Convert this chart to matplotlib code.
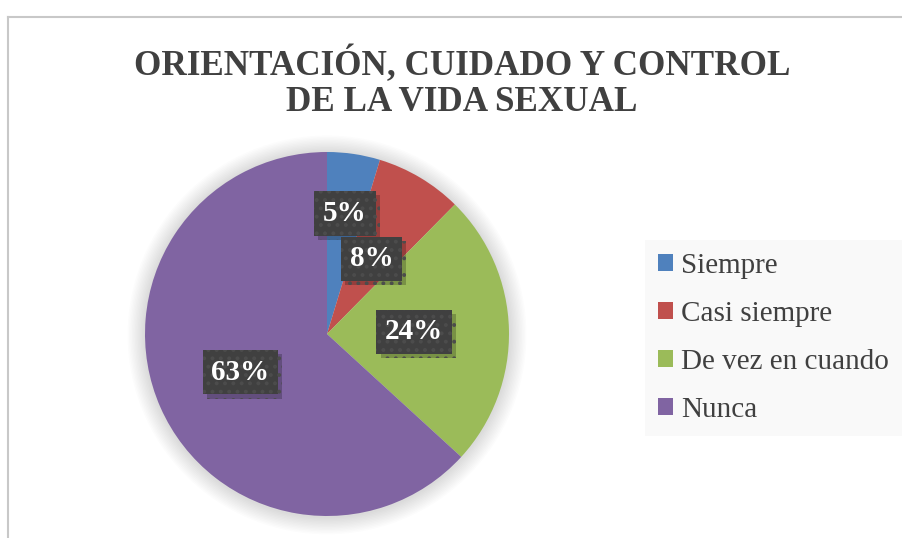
import matplotlib
matplotlib.use("Agg")
import matplotlib.pyplot as plt
import numpy as np
from matplotlib.patches import Circle
from matplotlib.lines import Line2D
import matplotlib.patheffects as pe

categories = ["Siempre", "Casi siempre", "De vez en cuando", "Nunca"]
values = [4.7, 7.7, 24.4, 63.2]
colors = ["#4F81BD", "#C0504D", "#9BBB59", "#8064A2"]
title = "ORIENTACIÓN, CUIDADO Y CONTROL\nDE LA VIDA SEXUAL"

label_radius = [0.67, 0.48, 0.48, 0.52]

plt.rcParams["font.family"] = ["Liberation Serif", "DejaVu Serif"]
plt.rcParams["hatch.linewidth"] = 1.6

W, H = 903, 538
fig = plt.figure(figsize=(W / 100, H / 100), dpi=100)
fig.patch.set_facecolor("white")

# chart border (top and left visible)
fig.add_artist(Line2D([8 / W, 8 / W], [0, 1 - 17 / H], color="#c8c8c8", lw=1.5, transform=fig.transFigure))
fig.add_artist(Line2D([8 / W, 1], [1 - 17 / H, 1 - 17 / H], color="#c8c8c8", lw=1.5, transform=fig.transFigure))

fig.text(462 / W, 1 - 82 / H, title, ha="center", va="center", fontsize=25.3,
         fontweight="bold", color="#404040", linespacing=1.12)

# pie axes
cx, cy, R = 327, 334, 182
L = 1.15
half = L * R
ax = fig.add_axes([(cx - half) / W, (H - cy - half) / H, 2 * half / W, 2 * half / H])

# soft glow shadow
for i in range(12):
    r = 1.0 + 0.008 * (i + 1)
    ax.add_patch(Circle((0, -0.005), r, facecolor="black", edgecolor="none", alpha=0.012, zorder=0))

wedges, _ = ax.pie(values, colors=colors, startangle=90, counterclock=False, radius=1.0,
                   wedgeprops=dict(linewidth=0), normalize=True)
for w in wedges:
    w.set_zorder(2)
ax.set_xlim(-L, L)
ax.set_ylim(-L, L)
ax.set_aspect("auto")
ax.axis("off")

total = sum(values)
for w, v, r in zip(wedges, values, label_radius):
    ang = np.deg2rad((w.theta1 + w.theta2) / 2)
    x, y = r * np.cos(ang), r * np.sin(ang)
    txt = f"{round(v / total * 100):.0f}%"
    t = ax.text(x, y, txt, ha="center", va="center", fontsize=21, fontweight="bold",
                color="white", zorder=4,
                bbox=dict(boxstyle="square,pad=0.3", facecolor="#404040", edgecolor="#4c4c4c",
                          hatch="..", linewidth=0))
    t.get_bbox_patch().set_path_effects([
        pe.SimplePatchShadow(offset=(3, -3), shadow_rgbFace="black", alpha=0.22),
        pe.Normal()])

# legend
leg = fig.legend(wedges, categories, loc="upper left",
                 bbox_to_anchor=(645 / W, 1 - 240 / H), frameon=True, fontsize=21,
                 handlelength=0.5, handleheight=0.5, handletextpad=0.3, labelspacing=0.75,
                 borderpad=0.45, borderaxespad=0, labelcolor="#404040")
leg.get_frame().set_facecolor("#f8f8f8")
leg.get_frame().set_edgecolor("none")
leg.get_frame().set_boxstyle("square", pad=0)

fig.savefig("out.png", dpi=100, facecolor="white")
